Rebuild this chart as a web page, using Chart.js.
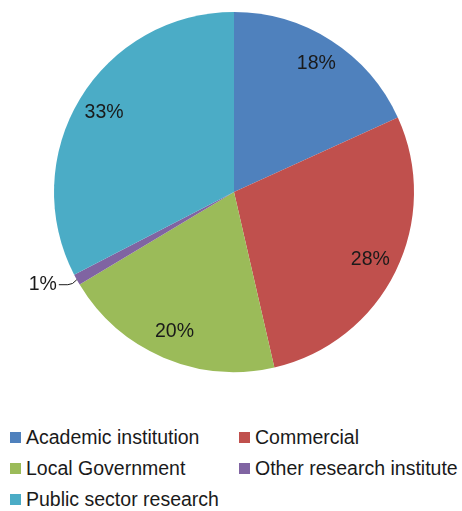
<!DOCTYPE html>
<html>
<head>
<meta charset="utf-8">
<script src="https://cdn.jsdelivr.net/npm/chart.js@4.4.1/dist/chart.umd.min.js"></script>
<style>
  html, body { margin: 0; padding: 0; background: #fff; }
  #wrap { position: relative; width: 462px; height: 511px; }
  #chartBox { position: absolute; left: 0; top: 0; width: 462px; height: 385px; }
  #legend { position: absolute; left: 0; top: 426px; width: 462px;
            font-family: "Liberation Sans", Arial, sans-serif; font-size: 19.5px; color: #1a1a1a; }
  .item { position: absolute; white-space: nowrap; line-height: 22px; }
  .sw { display: inline-block; width: 11px; height: 11px; margin-right: 5px; vertical-align: 1px; }
</style>
</head>
<body>
<div id="wrap">
  <div id="chartBox"><canvas id="c"></canvas></div>
  <div id="legend"></div>
</div>
<script>
const categories = ["Academic institution", "Commercial", "Local Government", "Other research institute", "Public sector research"];
const shares = [18.2, 28.2, 20.0, 1.0, 32.6];
const colors = ["#4F81BD", "#C0504D", "#9BBB59", "#8064A2", "#4BACC6"];

const labelPlugin = {
  id: 'sliceLabels',
  afterDatasetsDraw(chart) {
    const ctx = chart.ctx;
    const meta = chart.getDatasetMeta(0);
    const total = shares.reduce((a, b) => a + b, 0);
    ctx.save();
    ctx.font = '19.5px "Liberation Sans", Arial, sans-serif';
    ctx.fillStyle = '#1a1a1a';
    ctx.textBaseline = 'middle';
    meta.data.forEach((arc, i) => {
      const p = arc.getProps(['x', 'y', 'startAngle', 'endAngle', 'outerRadius'], true);
      const mid = (p.startAngle + p.endAngle) / 2;
      const txt = Math.round(shares[i] / total * 100) + '%';
      if (shares[i] / total >= 0.05) {
        const r = p.outerRadius * 0.845;
        ctx.textAlign = 'center';
        ctx.fillText(txt, p.x + Math.cos(mid) * r, p.y + Math.sin(mid) * r);
      } else {
        const ex = p.x + Math.cos(mid) * p.outerRadius;
        const ey = p.y + Math.sin(mid) * p.outerRadius;
        ctx.strokeStyle = '#1a1a1a';
        ctx.lineWidth = 1;
        ctx.beginPath();
        ctx.moveTo(ex - 18, ey + 5);
        ctx.lineTo(ex - 9, ey + 5);
        ctx.quadraticCurveTo(ex - 4, ey + 5, ex, ey);
        ctx.stroke();
        ctx.textAlign = 'right';
        ctx.fillText(txt, ex - 20, ey + 5);
      }
    });
    ctx.restore();
  }
};

new Chart(document.getElementById('c'), {
  type: 'pie',
  data: {
    labels: categories,
    datasets: [{ data: shares, backgroundColor: colors, borderWidth: 0 }]
  },
  options: {
    responsive: true,
    maintainAspectRatio: false,
    animation: false,
    layout: { padding: { top: 12, bottom: 13, left: 53, right: 47 } },
    plugins: { legend: { display: false }, tooltip: { enabled: false } }
  },
  plugins: [labelPlugin]
});

// legend in two columns
const legend = document.getElementById('legend');
const colX = [10, 239];
categories.forEach((name, i) => {
  const d = document.createElement('div');
  d.className = 'item';
  d.style.left = colX[i % 2] + 'px';
  d.style.top = (Math.floor(i / 2) * 31) + 'px';
  d.innerHTML = '<span class="sw" style="background:' + colors[i] + '"></span>' + name;
  legend.appendChild(d);
});
</script>
</body>
</html>
